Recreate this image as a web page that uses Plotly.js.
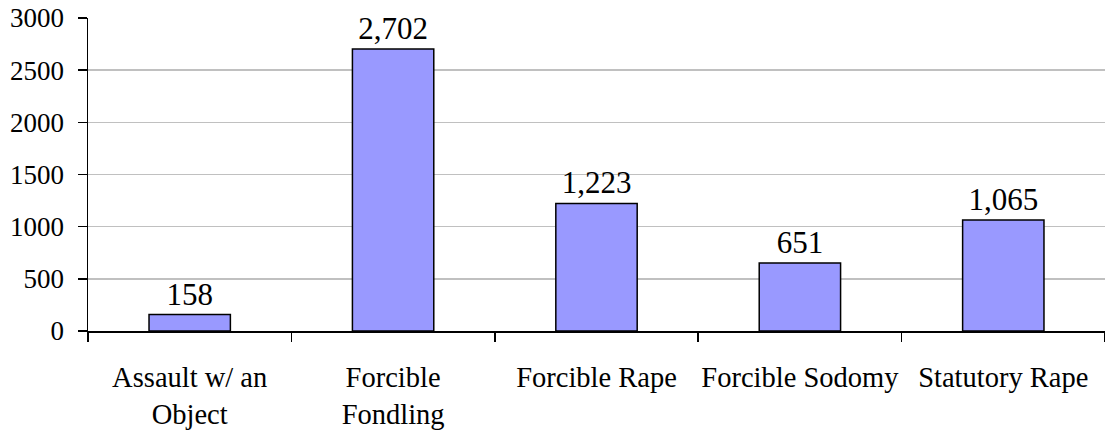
<!DOCTYPE html>
<html>
<head>
<meta charset="utf-8">
<script src="https://cdn.plot.ly/plotly-3.0.1.min.js"></script>
<style>html,body{margin:0;padding:0;background:#fff;}#chart{width:1105px;height:436px;}</style>
</head>
<body>
<div id="chart"></div>
<script>
const categories = ["Assault w/ an<br>Object", "Forcible<br>Fondling", "Forcible Rape", "Forcible Sodomy", "Statutory Rape"];
const values = [158, 2702, 1223, 651, 1065];
const yTicks = [0, 500, 1000, 1500, 2000, 2500, 3000];

const font = "'Liberation Serif', 'Times New Roman', serif";
Plotly.newPlot("chart", [{
  type: "bar",
  x: categories,
  y: values,
  marker: {color: "#9999FF", line: {color: "#000000", width: 1.5}},
  text: values.map(v => v.toLocaleString("en-US")),
  textposition: "outside",
  constraintext: "none",
  cliponaxis: false,
  textfont: {family: font, size: 31, color: "#000"},
  hoverinfo: "none"
}], {
  width: 1105, height: 436,
  margin: {l: 88, r: 0, t: 18, b: 105},
  paper_bgcolor: "#fff", plot_bgcolor: "#fff",
  bargap: 0.6,
  showlegend: false,
  font: {family: font, color: "#000"},
  xaxis: {
    type: "category",
    showline: true, linecolor: "#000", linewidth: 1.5,
    ticks: "outside", tickson: "boundaries", ticklen: 9, tickcolor: "#000", tickwidth: 1.5,
    tickfont: {family: font, size: 28.5, color: "#000"},
    tickangle: 0,
    ticklabelstandoff: 20,
    showgrid: false, zeroline: false
  },
  yaxis: {
    range: [0, 3000], tickvals: yTicks, ticktext: yTicks.map(String),
    showline: true, linecolor: "#000", linewidth: 1.5,
    ticks: "outside", ticklen: 9, tickcolor: "#000", tickwidth: 1.5,
    tickfont: {family: font, size: 27, color: "#000"},
    ticklabelstandoff: 8,
    showgrid: true, gridcolor: "#C0C0C0", gridwidth: 1.5,
    zeroline: false
  }
}, {staticPlot: true});
</script>
</body>
</html>
